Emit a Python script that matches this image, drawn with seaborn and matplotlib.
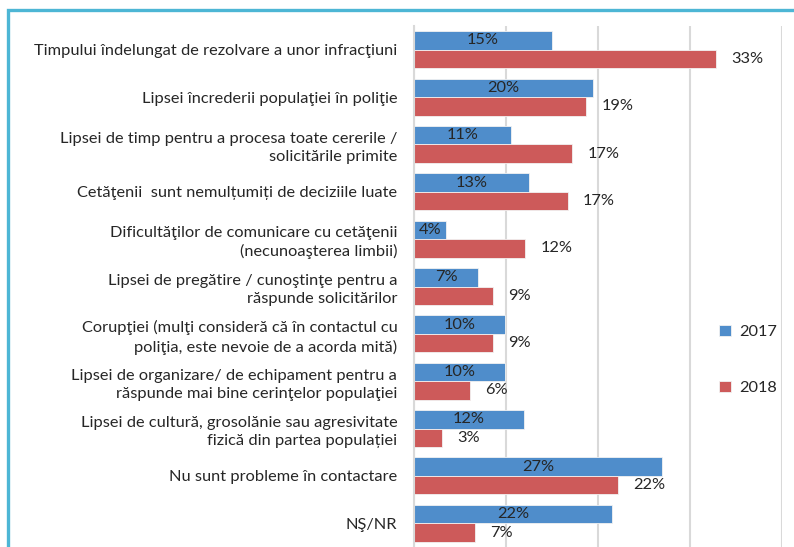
import pandas as pd
import matplotlib.pyplot as plt
import matplotlib.patches as mpatches
import seaborn as sns

# Data (bar lengths estimated, labels as printed)
categories = [
    "Timpului îndelungat de rezolvare a unor infracţiuni",
    "Lipsei încrederii populaţiei în poliţie",
    "Lipsei de timp pentru a procesa toate cererile /\nsolicitările primite",
    "Cetăţenii  sunt nemulțumiți de deciziile luate",
    "Dificultăţilor de comunicare cu cetăţenii\n(necunoaşterea limbii)",
    "Lipsei de pregătire / cunoştinţe pentru a\nrăspunde solicitărilor",
    "Corupţiei (mulţi consideră că în contactul cu\npoliţia, este nevoie de a acorda mită)",
    "Lipsei de organizare/ de echipament pentru a\nrăspunde mai bine cerinţelor populaţiei",
    "Lipsei de cultură, grosolănie sau agresivitate\nfizică din partea populației",
    "Nu sunt probleme în contactare",
    "NŞ/NR",
]
values_2017 = [15.0, 19.5, 10.5, 12.5, 3.5, 7.0, 9.9, 9.9, 12.0, 27.0, 21.5]
values_2018 = [32.8, 18.7, 17.2, 16.7, 12.1, 8.6, 8.6, 6.1, 3.0, 22.2, 6.6]
labels_2017 = ["15%", "20%", "11%", "13%", "4%", "7%", "10%", "10%", "12%", "27%", "22%"]
labels_2018 = ["33%", "19%", "17%", "17%", "12%", "9%", "9%", "6%", "3%", "22%", "7%"]
years = ["2017", "2018"]

df = pd.DataFrame({
    "Category": categories * 2,
    "Value": values_2017 + values_2018,
    "Year": [years[0]] * len(categories) + [years[1]] * len(categories),
})

sns.set_style("white")
plt.rcParams["font.family"] = ["Lato", "DejaVu Sans"]

text_color = "#262626"
blue = "#4F8DCB"
red = "#CD5A5A"
fs = 11.8

fig = plt.figure(figsize=(7.94, 5.47), dpi=100)
ax = fig.add_axes([414 / 794, 0, (782 - 414) / 794, 1 - 26 / 547])

sns.barplot(data=df, y="Category", x="Value", hue="Year", orient="h",
            palette=[blue, red], saturation=1, width=0.78, ax=ax, legend=True,
            edgecolor="#F2F2F2", linewidth=0.6)

ax.set_xlim(0, 40)
ax.set_xticks([0, 10, 20, 30, 40])
ax.set_xticklabels([])
ax.grid(axis="x", color="#D9D9D9", linewidth=1.5)
ax.set_axisbelow(True)
ax.set_xlabel("")
ax.set_ylabel("")
for side in ["top", "right", "bottom"]:
    ax.spines[side].set_visible(False)
ax.spines["left"].set_color("#D9D9D9")
ax.spines["left"].set_linewidth(1.5)
ax.tick_params(axis="y", length=0, pad=12, labelsize=fs, labelcolor=text_color)
ax.tick_params(axis="x", length=0)
for lbl in ax.get_yticklabels():
    lbl.set_horizontalalignment("right")
    lbl.set_multialignment("right")
    lbl.set_linespacing(1.35)

# data labels
ax.bar_label(ax.containers[0], labels=labels_2017,
             label_type="center", fontsize=fs, color=text_color)
ax.bar_label(ax.containers[1], labels=labels_2018,
             label_type="edge", padding=11, fontsize=fs, color=text_color)

ax.legend(loc="upper left", bbox_to_anchor=(0.79, 0.455), frameon=False,
          fontsize=fs, labelspacing=2.55, handlelength=0.7, handleheight=0.7,
          handletextpad=0.5, labelcolor=text_color)

# light blue frame around the chart (cropped at right and bottom)
frame = mpatches.Rectangle((7.5 / 794, -0.05), 1.0, 1 - 9.5 / 547 + 0.05,
                           transform=fig.transFigure, fill=False,
                           edgecolor="#4DB6D5", linewidth=2.4, clip_on=False)
fig.patches.append(frame)

fig.savefig("out.png", dpi=100)
